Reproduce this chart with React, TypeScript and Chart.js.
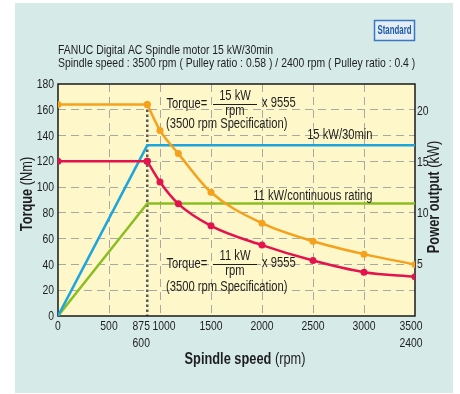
import React, { useEffect, useRef } from 'react';
import { Chart, registerables } from 'chart.js';

Chart.register(...registerables);

const FONT = '"Liberation Sans", Arial, sans-serif';
const SQUEEZE = 0.8;

// ---- data ----
const flatSpeeds = [0, 875];
const torque15Flat = [164, 164];
const torque11Flat = [120, 120];
const curveSpeeds = [875, 1000, 1180, 1500, 2000, 2500, 3000, 3500];
const torque15Curve = [164, 144, 126, 96, 72, 58, 48, 40];
const torque11Curve = [120, 104, 87, 70, 55, 43, 34, 30.5];
const powerSpeeds = [0, 875, 3500];
const power15 = [0, 16.7, 16.7];
const power11 = [0, 11.0, 11.0];
const torqueTicks = [0, 20, 40, 60, 80, 100, 120, 140, 160, 180];
const powerTicks = [5, 10, 15, 20];
const speedGrid = [0, 500, 1000, 1500, 2000, 2500, 3000, 3500];
const speedTicks = [0, 500, 875, 1000, 1500, 2000, 2500, 3000, 3500];
const altSpeedTicks = [875, 3500];
const altSpeedLabels = ['600', '2400'];
const kneeSpeed = 875;

const ORANGE = '#f5a11c';
const RED = '#e3134d';
const BLUE = '#1ea5de';
const GREEN = '#8cbe22';
const PANEL = '#d6ebe8';
const PLOT = '#fdf7c9';
const TEXT = '#1e1e1e';

const pts = (xs: number[], ys: number[]) => xs.map((x, i) => ({ x, y: ys[i] }));

type Run = { t: string; b?: boolean };
function drawRuns(ctx: CanvasRenderingContext2D, runs: Run[], size: number, x: number, y: number, align: 'left' | 'center' | 'right') {
  const widths = runs.map((r) => {
    ctx.font = `${r.b ? 'bold ' : ''}${size}px ${FONT}`;
    return ctx.measureText(r.t).width * SQUEEZE;
  });
  const total = widths.reduce((s, w) => s + w, 0);
  let cx = align === 'left' ? x : align === 'center' ? x - total / 2 : x - total;
  ctx.textAlign = 'left';
  ctx.textBaseline = 'middle';
  runs.forEach((r, i) => {
    ctx.font = `${r.b ? 'bold ' : ''}${size}px ${FONT}`;
    ctx.fillText(r.t, cx, y, widths[i]);
    cx += widths[i];
  });
}

const decor = {
  id: 'decor',
  beforeDraw(chart: any) {
    const { ctx, chartArea: a } = chart;
    ctx.save();
    ctx.fillStyle = '#ffffff';
    ctx.fillRect(0, 0, chart.width, chart.height);
    ctx.fillStyle = PANEL;
    ctx.fillRect(15, 3, 438, 390);
    ctx.fillStyle = PLOT;
    ctx.fillRect(a.left, a.top, a.right - a.left, a.bottom - a.top);
    ctx.restore();
  },
  beforeDatasetsDraw(chart: any) {
    const { ctx, chartArea: a, scales } = chart;
    ctx.save();
    const kx = scales.x.getPixelForValue(kneeSpeed);
    const ky = scales.y.getPixelForValue(torque15Flat[1]);
    ctx.strokeStyle = '#5a5a5a';
    ctx.lineWidth = 2.5;
    ctx.setLineDash([2.5, 2.5]);
    ctx.beginPath();
    ctx.moveTo(kx, ky);
    ctx.lineTo(kx, a.bottom);
    ctx.stroke();
    ctx.setLineDash([]);
    ctx.strokeStyle = '#1a1a1a';
    ctx.lineWidth = 1.5;
    ctx.strokeRect(a.left, a.top, a.right - a.left, a.bottom - a.top);
    ctx.restore();
  },
  afterDraw(chart: any) {
    const { ctx, chartArea: a, scales } = chart;
    ctx.save();
    ctx.fillStyle = TEXT;
    ctx.strokeStyle = TEXT;

    // title lines
    drawRuns(ctx, [{ t: 'FANUC Digital AC Spindle motor 15 kW/30min' }], 13, a.left, 50.5, 'left');
    drawRuns(ctx, [{ t: 'Spindle speed : 3500 rpm ( Pulley ratio : 0.58 ) / 2400 rpm ( Pulley ratio : 0.4 )' }], 13, a.left, 63, 'left');

    // badge
    ctx.fillStyle = '#e4ecf4';
    ctx.fillRect(374.5, 20.5, 40, 20);
    ctx.strokeStyle = '#3a78c4';
    ctx.lineWidth = 1.5;
    ctx.strokeRect(374.5, 20.5, 40, 20);
    ctx.fillStyle = '#1d5cad';
    ctx.font = `bold 12px ${FONT}`;
    ctx.textAlign = 'center';
    ctx.textBaseline = 'middle';
    ctx.fillText('Standard', 394.5, 31, 34);

    ctx.fillStyle = TEXT;
    ctx.strokeStyle = TEXT;
    ctx.lineWidth = 1;

    // y tick labels (torque, left)
    torqueTicks.forEach((v) => {
      drawRuns(ctx, [{ t: String(v) }], 13, a.left - 4, scales.y.getPixelForValue(v) + 0.5, 'right');
    });
    // y1 tick labels (power, right)
    powerTicks.forEach((v) => {
      drawRuns(ctx, [{ t: String(v) }], 13, a.right + 2, scales.y1.getPixelForValue(v), 'left');
    });

    // x tick labels
    const offs: Record<number, number> = { 875: -6, 1000: 4, 3500: -4 };
    speedTicks.forEach((v) => {
      const px = scales.x.getPixelForValue(v) + (offs[v] || 0);
      drawRuns(ctx, [{ t: String(v) }], 13, px, a.bottom + 10.5, 'center');
    });
    altSpeedTicks.forEach((v, i) => {
      const px = scales.x.getPixelForValue(v) + (offs[v] || 0);
      drawRuns(ctx, [{ t: altSpeedLabels[i] }], 13, px, a.bottom + 27, 'center');
    });

    // axis titles
    drawRuns(ctx, [{ t: 'Spindle speed', b: true }, { t: ' (rpm)' }], 16, 245, 360, 'center');
    ctx.save();
    ctx.translate(28, 194);
    ctx.rotate(-Math.PI / 2);
    drawRuns(ctx, [{ t: 'Torque', b: true }, { t: ' (Nm)' }], 16, 0, 0, 'center');
    ctx.restore();
    ctx.save();
    ctx.translate(435, 197);
    ctx.rotate(-Math.PI / 2);
    drawRuns(ctx, [{ t: 'Power output', b: true }, { t: ' (kW)' }], 16, 0, 0, 'center');
    ctx.restore();

    // formula annotations
    const formula = (kw: string, cy: number, specY: number) => {
      drawRuns(ctx, [{ t: 'Torque=' }], 14, 166.5, cy, 'left');
      drawRuns(ctx, [{ t: kw }], 14, 235, cy - 7.5, 'center');
      ctx.beginPath();
      ctx.moveTo(213, cy + 0.5);
      ctx.lineTo(257, cy + 0.5);
      ctx.stroke();
      drawRuns(ctx, [{ t: 'rpm' }], 14, 235, cy + 7.5, 'center');
      drawRuns(ctx, [{ t: 'x 9555' }], 14, 262, cy - 0.5, 'left');
      drawRuns(ctx, [{ t: '(3500 rpm Specification)' }], 14, 166, specY, 'left');
    };
    formula('15 kW', 104, 124.5);
    formula('11 kW', 264, 287.5);

    drawRuns(ctx, [{ t: '15 kW/30min' }], 14, 372.5, 135, 'right');
    drawRuns(ctx, [{ t: '11 kW/continuous rating' }], 14, 372.5, 196.5, 'right');
    ctx.restore();
  },
};

export default function App() {
  const ref = useRef<HTMLCanvasElement | null>(null);
  useEffect(() => {
    if (!ref.current) return;
    const lineDs = (label: string, data: any[], color: string, axis: string, dots: boolean, curved: boolean) => ({
      label,
      data,
      yAxisID: axis,
      borderColor: color,
      backgroundColor: color,
      borderWidth: 2.5,
      pointRadius: dots ? 3.5 : 0,
      pointBorderWidth: 0,
      pointBackgroundColor: color,
      cubicInterpolationMode: curved ? 'monotone' : 'default',
      tension: curved ? 0.4 : 0,
      fill: false,
    });
    const chart = new Chart(ref.current, {
      type: 'line',
      data: {
        datasets: [
          lineDs('15 kW torque curve', pts(curveSpeeds, torque15Curve), ORANGE, 'y', true, true),
          lineDs('15 kW torque', pts(flatSpeeds, torque15Flat), ORANGE, 'y', true, false),
          lineDs('11 kW torque curve', pts(curveSpeeds, torque11Curve), RED, 'y', true, true),
          lineDs('11 kW torque', pts(flatSpeeds, torque11Flat), RED, 'y', true, false),
          lineDs('15 kW/30min', pts(powerSpeeds, power15), BLUE, 'y1', false, false),
          lineDs('11 kW/continuous rating', pts(powerSpeeds, power11), GREEN, 'y1', false, false),
        ] as any,
      },
      options: {
        animation: false,
        responsive: false,
        events: [],
        layout: { padding: { left: 18, right: 25, top: 84, bottom: 78 } },
        plugins: { legend: { display: false }, tooltip: { enabled: false } },
        scales: {
          x: {
            type: 'linear',
            min: 0,
            max: 3500,
            afterBuildTicks: (s: any) => {
              s.ticks = speedGrid.map((v) => ({ value: v }));
            },
            afterFit: (s: any) => {
              s.height = 0;
            },
            ticks: { display: false },
            border: { display: false, dash: [8, 5] },
            grid: {
              drawTicks: false,
              lineWidth: 1,
              color: (c: any) => (c.tick && (c.tick.value === 0 || c.tick.value === 3500) ? 'rgba(0,0,0,0)' : '#a9a9a4'),
            },
          },
          y: {
            type: 'linear',
            position: 'left',
            min: 0,
            max: 180,
            afterBuildTicks: (s: any) => {
              s.ticks = torqueTicks.map((v) => ({ value: v }));
            },
            afterFit: (s: any) => {
              s.width = 40;
            },
            ticks: { display: false },
            border: { display: false, dash: [8, 5] },
            grid: {
              drawTicks: false,
              lineWidth: 1,
              color: (c: any) => (c.tick && (c.tick.value === 0 || c.tick.value === 180) ? 'rgba(0,0,0,0)' : '#a9a9a4'),
            },
          },
          y1: {
            type: 'linear',
            position: 'right',
            min: 0,
            max: 22.7,
            afterBuildTicks: (s: any) => {
              s.ticks = powerTicks.map((v) => ({ value: v }));
            },
            afterFit: (s: any) => {
              s.width = 20;
            },
            ticks: { display: false },
            border: { display: false },
            grid: { display: false, drawTicks: false },
          },
        },
      },
      plugins: [decor],
    } as any);
    return () => chart.destroy();
  }, []);
  return (
    <div style={{ position: 'fixed', left: 0, top: 0, width: 460, height: 394, background: '#fff' }}>
      <canvas ref={ref} width={460} height={394} style={{ display: 'block', width: 460, height: 394 }} />
    </div>
  );
}
